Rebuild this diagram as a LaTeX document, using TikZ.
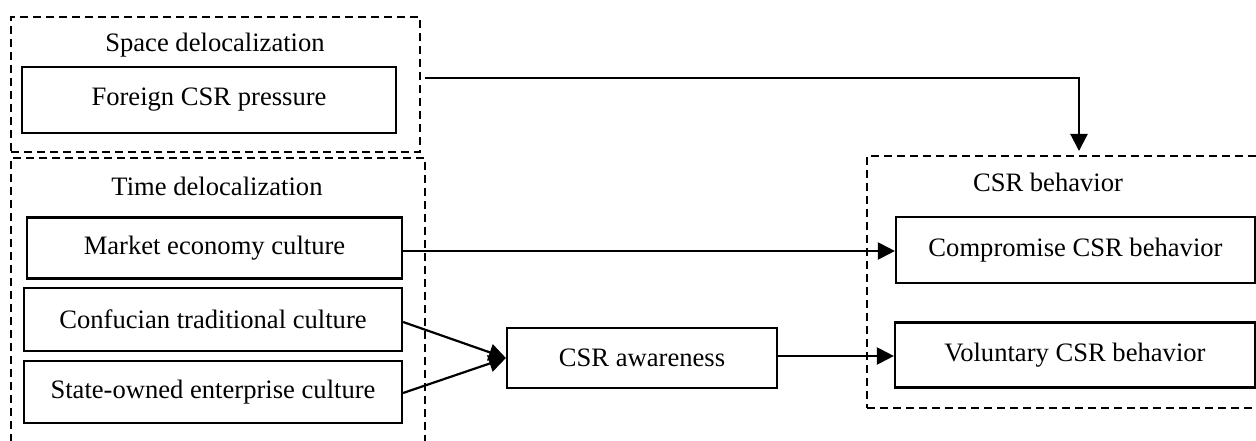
\documentclass[tikz,border=0pt]{standalone}
\usepackage{fontspec}
\setmainfont{Liberation Serif}
\usetikzlibrary{arrows.meta}
\begin{document}
\begin{tikzpicture}[x=1pt,y=1pt,
  every node/.style={font=\fontsize{26.6}{30}\selectfont, inner sep=0pt},
  box/.style={draw, line width=2.2pt, minimum width=#1, anchor=center},
  grp/.style={draw, line width=2pt, dash pattern=on 8pt off 5pt, anchor=north west},
  lbl/.style={anchor=center},
  conn/.style={line width=2.2pt, -{Triangle[length=17pt,width=17pt]}}]
\useasboundingbox (0,0) rectangle (1256,-441);
\begin{scope}
\clip (0,0) rectangle (1256,-441);
% groups
\node[grp, minimum width=409pt, minimum height=135pt] (spaceg) at (10,-16) {};
\node[grp, minimum width=414pt, minimum height=300pt] (timeg) at (10,-157) {};
\node[grp, minimum width=400pt, minimum height=252pt] (behg) at (866,-155) {};
% labels
\node[lbl] (spacel) at (215,-45) {Space delocalization};
\node[lbl] (timel) at (217,-186) {Time delocalization};
\node[lbl] (behl) at (1048,-182) {CSR behavior};
% boxes
\node[box=374pt, minimum height=66pt] (foreign) at (209,-100) {Foreign CSR pressure};
\node[box=375pt, minimum height=61pt] (market) at (214.5,-248) {Market economy culture};
\node[box=378pt, minimum height=63pt] (conf) at (213,-319.5) {Confucian traditional culture};
\node[box=378pt, minimum height=62pt] (state) at (213,-392) {State-owned enterprise culture};
\node[box=270pt, minimum height=60pt] (aware) at (642,-358) {CSR awareness};
\node[box=359pt, minimum height=66pt] (comp) at (1075.5,-250) {Compromise CSR behavior};
\node[box=360pt, minimum height=65pt] (vol) at (1075,-355) {Voluntary CSR behavior};
% connectors
\coordinate (fstart) at (425,-78);
\coordinate (fbend) at (1079,-78);
\draw[conn, shorten >=4pt] (fstart) -- (fbend) -- (fbend |- behg.north);
\draw[conn] (market.east |- 0,-251) -- (comp.west |- 0,-251);
\draw[conn] (conf.east |- 0,-322) -- (aware.west);
\draw[conn] (state.east |- 0,-393) -- (aware.west);
\draw[conn] (aware.east |- 0,-356) -- (vol.west |- 0,-356);
\end{scope}
\end{tikzpicture}
\end{document}
